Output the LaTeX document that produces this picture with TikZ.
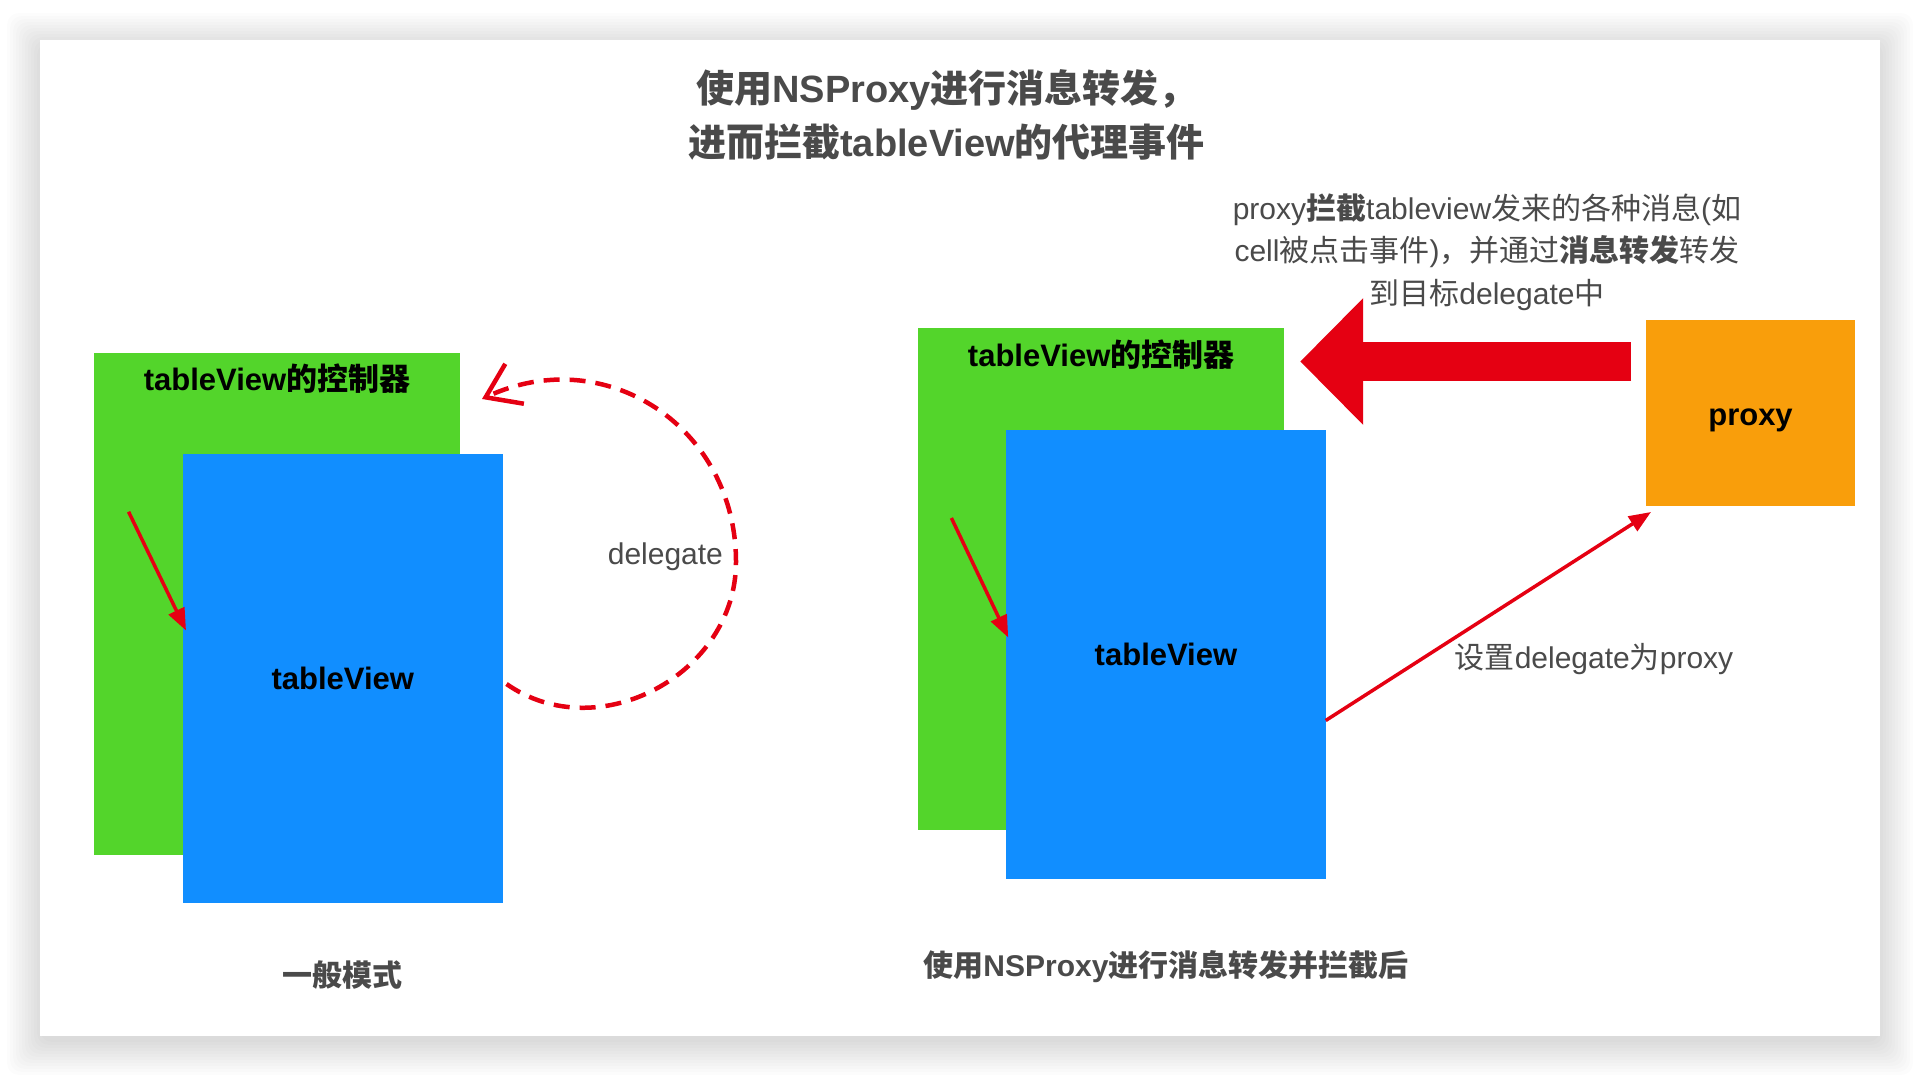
\documentclass[tikz,border=0pt]{standalone}
\usepackage{fontspec}
\setmainfont{Liberation Sans}
\newfontfamily\zhfont{Noto Sans CJK SC}
\newcommand\zh[1]{{\zhfont#1}}
\usetikzlibrary{arrows.meta,positioning,calc}
\definecolor{ctrlgreen}{HTML}{53D52B}
\definecolor{viewblue}{HTML}{118EFF}
\definecolor{proxyorange}{HTML}{F99E0B}
\definecolor{msgred}{HTML}{E50012}
\definecolor{ink}{HTML}{000000}
\definecolor{muted}{HTML}{4A4A4A}

\begin{document}
\begin{tikzpicture}[
  x=0.5pt, y=0.5pt,
  ctrlbox/.style={
    fill=ctrlgreen, inner sep=0pt, outer sep=0pt,
    minimum width=183pt, minimum height=251pt
  },
  viewbox/.style={
    fill=viewblue, inner sep=0pt, outer sep=0pt,
    minimum width=159.75pt, minimum height=224.5pt, text=ink,
    font=\bfseries\fontsize{15.5pt}{18pt}\selectfont
  },
  proxybox/.style={
    fill=proxyorange, inner sep=0pt, outer sep=0pt,
    minimum width=104.5pt, minimum height=93pt
  },
  boxtitle/.style={text=ink, inner sep=0pt, font=\bfseries\fontsize{15.5pt}{18pt}\selectfont},
  headline/.style={text=muted, align=center, font=\bfseries\fontsize{19pt}{27pt}\selectfont},
  caption/.style={text=muted, font=\bfseries\fontsize{15pt}{18pt}\selectfont},
  note/.style={text=muted, font=\fontsize{15pt}{18pt}\selectfont},
  remark/.style={text=muted, align=center, font=\fontsize{15pt}{21.25pt}\selectfont},
  thinarrow/.style={-{Triangle[length=11pt,width=8.5pt]}, line width=1.75pt, draw=msgred},
  dasharrow/.style={-{Straight Barb[length=16pt,width=22pt]}, line width=2.25pt,
    draw=msgred, dash pattern=on 8pt off 5pt},
  bigarrow/.style={-{Triangle[length=31.5pt,width=61.5pt]}, line width=19.5pt, draw=msgred}
]

\useasboundingbox (0,0) rectangle (1920,1076);
\fill[white] (0,0) rectangle (1920,1076);
\foreach \i in {0,...,11}
  \fill[black, opacity=0.011, rounded corners=6pt]
    (40-3*\i, 34-3*\i) rectangle (1880+3*\i, 1030+3*\i);
\fill[white] (40,40) rectangle (1880,1036);

\node[headline] (title) at (946.6,961)
  {\zh{使用}NSProxy\zh{进行消息转发，}\\\zh{进而拦截}tableView\zh{的代理事件}};

% normal mode
\node[ctrlbox] (ctrlL) at (277,472) {};
\node[boxtitle] (ctrlLtitle) at ([yshift=-13pt]ctrlL.north) {tableView\zh{的控制器}};
\node[viewbox, anchor=north west] (tvL) at ([xshift=44.5pt,yshift=-50.5pt]ctrlL.north west)
  {tableView};
\node[caption] (modeL) at ([yshift=-36pt]tvL.south) {\zh{一般模式}};

\coordinate (ptrL) at (128.6,564.2);
\draw[thinarrow] (ptrL) -- ([xshift=1.5pt,yshift=24pt]tvL.west);

\coordinate (arcR) at (736,514);
\draw[dasharrow] ([xshift=2pt,yshift=-2.75pt]tvL.east)
  to[out=-35, in=-90, looseness=1.1] (arcR)
  to[out=90, in=25, looseness=1.15] ([xshift=11pt,yshift=-23pt]ctrlL.north east);
\node[note, anchor=east] (dlgL) at ([xshift=-3pt,yshift=2.75pt]arcR) {delegate};

% with NSProxy
\node[ctrlbox] (ctrlR) at (1101.2,497) {};
\node[boxtitle] (ctrlRtitle) at ([yshift=-13.5pt]ctrlR.north) {tableView\zh{的控制器}};
\node[viewbox, anchor=north west] (tvR) at ([xshift=44pt,yshift=-51pt]ctrlR.north west)
  {tableView};
\node[caption] (modeR) at ([yshift=-44pt]tvR.south) {\zh{使用}NSProxy\zh{进行消息转发并拦截后}};

\node[proxybox] (proxy) at (1750.5,663) {};
\node[boxtitle] (proxytxt) at ([yshift=-3.5pt]proxy.center) {proxy};

\coordinate (ptrR) at (951.4,558);
\draw[thinarrow] (ptrR) -- ([xshift=1pt,yshift=8.5pt]tvR.west);

\draw[thinarrow] ([yshift=-33pt]tvR.east) -- ([xshift=2.5pt,yshift=-3pt]proxy.south west);
\node[note] (setdlg) at (1594,417) {\zh{设置}delegate\zh{为}proxy};

\coordinate (fwdS) at ([xshift=-7.5pt,yshift=25.75pt]proxy.west);
\coordinate (fwdE) at (fwdS -| ctrlR.east);
\draw[bigarrow] (fwdS) -- ([xshift=8pt]fwdE);

\node[remark] (fwdnote) at (1487,824)
  {proxy\textbf{\zh{拦截}}tableview\zh{发来的各种消息}(\zh{如}\\
   cell\zh{被点击事件})\zh{，并通过}\textbf{\zh{消息转发}}\zh{转发}\\
   \zh{到目标}delegate\zh{中}};

\end{tikzpicture}
\end{document}
